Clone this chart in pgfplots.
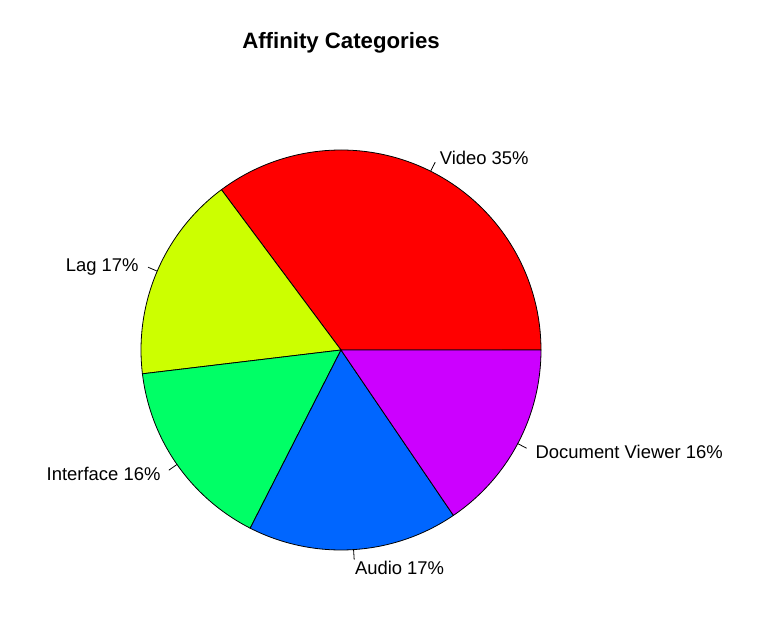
\documentclass[border=0pt]{standalone}
\usepackage{fontspec}
\setmainfont{Liberation Sans}
\usepackage{pgfplots}
\pgfplotsset{compat=1.18}

% rainbow(5)
\definecolor{sl1}{HTML}{FF0000}
\definecolor{sl2}{HTML}{CCFF00}
\definecolor{sl3}{HTML}{00FF66}
\definecolor{sl4}{HTML}{0066FF}
\definecolor{sl5}{HTML}{CC00FF}

% centre (341,292), radius 200, in pixel units of the frame
\newcommand{\slice}[3]{%
  \addplot[fill=#3, draw=black, line width=0.8pt, domain=#1:#2, samples=80, variable=\t]
    ({341+200*cos(\t)}, {292+200*sin(\t)}) -- (axis cs:341,292) -- cycle;
}
% tick + label at mid angle #1, anchor #2, vertical nudge #4
\newcommand{\plabel}[4]{%
  \draw[line width=0.8pt] (axis cs:{341+200*cos(#1)},{292+200*sin(#1)})
     -- (axis cs:{341+210*cos(#1)},{292+210*sin(#1)});
  \node[anchor=#2, inner sep=0pt, font=\fontsize{18.5}{21}\selectfont]
     at (axis cs:{341+220*cos(#1)},{292+220*sin(#1)+#4}) {#3};
}

\begin{document}
\begin{tikzpicture}
\begin{axis}[
  width=769bp, height=642bp, scale only axis,
  xmin=0, xmax=769, ymin=0, ymax=642,
  hide axis, clip=false,
]
% shares (%): Video 35.2, Lag 16.7, Interface 15.6, Audio 17.0, Document Viewer 15.5
\slice{0}{126.72}{sl1}
\slice{126.72}{186.84}{sl2}
\slice{186.84}{243.0}{sl3}
\slice{243.0}{304.2}{sl4}
\slice{304.2}{360}{sl5}

\plabel{63.36}{west}{Video 35\%}{-5}
\plabel{156.78}{east}{Lag 17\%}{-4}
\plabel{214.92}{east}{Interface 16\%}{2}
\plabel{273.6}{west}{Audio 17\%}{2}
\plabel{332.1}{west}{Document Viewer 16\%}{1}

\node[font=\bfseries\fontsize{22.3}{26}\selectfont] at (axis cs:341,599) {Affinity Categories};
\path (rel axis cs:0,0) rectangle (rel axis cs:1,1);
\end{axis}
\end{tikzpicture}
\end{document}
